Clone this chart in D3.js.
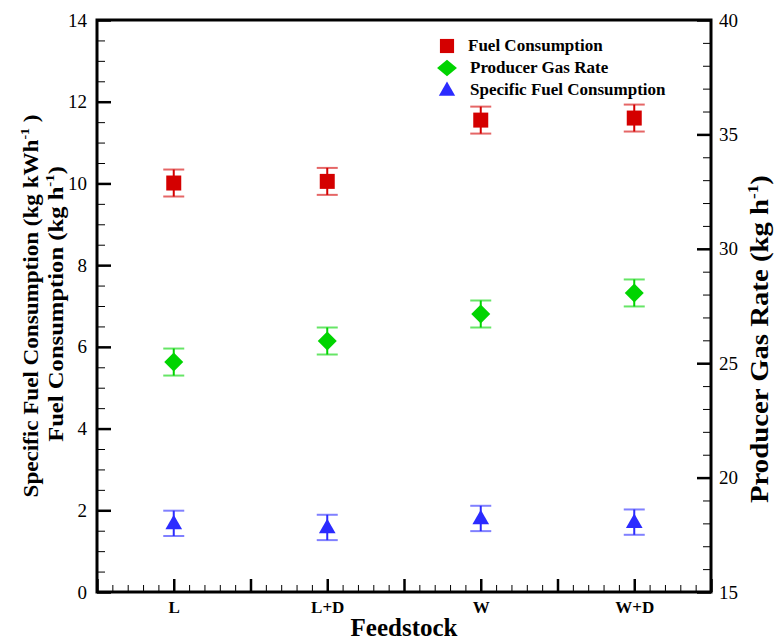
<!DOCTYPE html>
<html><head><meta charset="utf-8">
<script src="https://cdn.jsdelivr.net/npm/d3@7"></script>
<style>
body{margin:0;background:#fff;}
svg{display:block;}
</style></head>
<body><svg id="c" width="774" height="643"></svg>
<script>
const categories = ["L", "L+D", "W", "W+D"];
const fuelConsumption = [10.01, 10.05, 11.55, 11.6];
const fuelConsumptionErr = [0.33, 0.33, 0.33, 0.33];
const producerGasRate = [25.05, 25.97, 27.15, 28.07];
const producerGasRateErr = [0.59, 0.59, 0.59, 0.59];
const specificFuel = [1.68, 1.58, 1.80, 1.71];
const specificFuelErr = [0.31, 0.31, 0.31, 0.31];
const leftTicks = [0, 2, 4, 6, 8, 10, 12, 14];
const rightTicks = [15, 20, 25, 30, 35, 40];

const svg = d3.select("#c");
const L = 97, R = 711, T = 20, B = 592;
const x = d3.scaleLinear().domain([0, 4]).range([L, R]);
const yL = d3.scaleLinear().domain([0, 14]).range([B, T]);
const yR = d3.scaleLinear().domain([15, 40]).range([B, T]);
const serif = "'Liberation Serif','Times New Roman',serif";

function styleAxis(g, w) {
  g.attr("font-family", serif);
  g.select(".domain").remove();
  g.selectAll(".tick line").attr("stroke", "#000").attr("stroke-width", w);
  g.selectAll("text").attr("font-family", serif).attr("fill", "#000");
}

// minor ticks
const gLm = svg.append("g").attr("transform", `translate(${L},0)`)
  .call(d3.axisLeft(yL).tickValues(d3.range(0, 14.01, 0.5)).tickSizeInner(-8).tickFormat(""));
styleAxis(gLm, 1);
const gRm = svg.append("g").attr("transform", `translate(${R},0)`)
  .call(d3.axisRight(yR).tickValues(d3.range(15, 40.01, 1)).tickSizeInner(-8).tickFormat(""));
styleAxis(gRm, 1);
const gBm = svg.append("g").attr("transform", `translate(0,${B})`)
  .call(d3.axisBottom(x).tickValues(d3.range(0, 4.001, 0.1)).tickSizeInner(-7).tickFormat(""));
styleAxis(gBm, 1);

// major ticks
const gL = svg.append("g").attr("transform", `translate(${L},0)`)
  .call(d3.axisLeft(yL).tickValues(leftTicks).tickSizeInner(-14).tickPadding(10).tickFormat(d3.format("d")));
styleAxis(gL, 2.5);
gL.selectAll("text").attr("font-size", 19);
const gR = svg.append("g").attr("transform", `translate(${R},0)`)
  .call(d3.axisRight(yR).tickValues(rightTicks).tickSizeInner(-14).tickPadding(8).tickFormat(d3.format("d")));
styleAxis(gR, 2.5);
gR.selectAll("text").attr("font-size", 19);
const gB = svg.append("g").attr("transform", `translate(0,${B})`)
  .call(d3.axisBottom(x).tickValues(d3.range(0, 4.001, 0.5)).tickSizeInner(-13).tickFormat(""));
styleAxis(gB, 2.5);
const gC = svg.append("g").attr("transform", `translate(0,${B})`)
  .call(d3.axisBottom(x).tickValues(categories.map((c, i) => i + 0.5)).tickSize(0).tickPadding(9)
    .tickFormat((d, i) => categories[i]));
styleAxis(gC, 0);
gC.selectAll("text").attr("font-size", 17).attr("font-weight", "bold");

// frame
svg.append("rect").attr("x", L).attr("y", T).attr("width", R - L).attr("height", B - T)
  .attr("fill", "none").attr("stroke", "#000").attr("stroke-width", 3);

// series
const series = [
  {vals: fuelConsumption, err: fuelConsumptionErr, y: yL, color: "#d40000", shape: d3.symbolSquare, size: 225, rot: 0, dy: 0},
  {vals: producerGasRate, err: producerGasRateErr, y: yR, color: "#00d400", shape: d3.symbolSquare, size: 180, rot: 45, dy: 0},
  {vals: specificFuel, err: specificFuelErr, y: yL, color: "#2b2bff", shape: d3.symbolTriangle, size: 120, rot: 0, dy: 1}
];
series.forEach(s => {
  const g = svg.append("g");
  s.vals.forEach((v, i) => {
    const cx = x(i + 0.5);
    const y1 = s.y(v + s.err[i]), y0 = s.y(v - s.err[i]);
    g.append("line").attr("x1", cx).attr("x2", cx).attr("y1", y1).attr("y2", y0)
      .attr("stroke", s.color).attr("stroke-width", 2);
    [y1, y0].forEach(yy => g.append("line").attr("x1", cx - 10.5).attr("x2", cx + 10.5)
      .attr("y1", yy).attr("y2", yy).attr("stroke", s.color).attr("stroke-opacity", 0.6).attr("stroke-width", 2));
    g.append("path").attr("d", d3.symbol().type(s.shape).size(s.size)()).attr("fill", s.color)
      .attr("transform", `translate(${cx},${s.y(v) + s.dy}) rotate(${s.rot})`);
  });
});

// legend
const legendNames = ["Fuel Consumption", "Producer Gas Rate", "Specific Fuel Consumption"];
const legendSizes = [200, 150, 115];
legendNames.forEach((n, i) => {
  const s = series[i];
  const ly = 46 + i * 22;
  svg.append("path").attr("d", d3.symbol().type(s.shape).size(legendSizes[i])())
    .attr("fill", s.color)
    .attr("transform", i === 1 ? `translate(447,${ly}) scale(1.15,0.95) rotate(45)` : `translate(447,${ly + s.dy})`);
  svg.append("text").attr("x", i === 0 ? 468 : 470).attr("y", ly + 5).text(n)
    .attr("font-family", serif).attr("font-weight", "bold").attr("font-size", 17);
});

// axis titles
function title(tx, ty, size, stretch, main, close) {
  const t = svg.append("text").attr("transform", `translate(${tx},${ty}) rotate(-90) scale(${stretch},1)`)
    .attr("text-anchor", "middle").attr("font-family", serif).attr("font-weight", "bold").attr("font-size", size);
  t.append("tspan").text(main);
  t.append("tspan").text("-1").attr("font-size", size * 0.6).attr("dy", -size * 0.42);
  t.append("tspan").text(close).attr("dy", size * 0.42);
}
title(38, 306, 21, 1.1, "Specific Fuel Consumption (kg kWh", " )");
title(63, 304, 22, 1.12, "Fuel Consumption (kg h", ")");
title(768, 339, 25, 1.15, "Producer Gas Rate (kg h", ")");

svg.append("text").attr("x", 404).attr("y", 636).attr("text-anchor", "middle")
  .attr("font-family", serif).attr("font-weight", "bold").attr("font-size", 25).text("Feedstock");
</script></body></html>
